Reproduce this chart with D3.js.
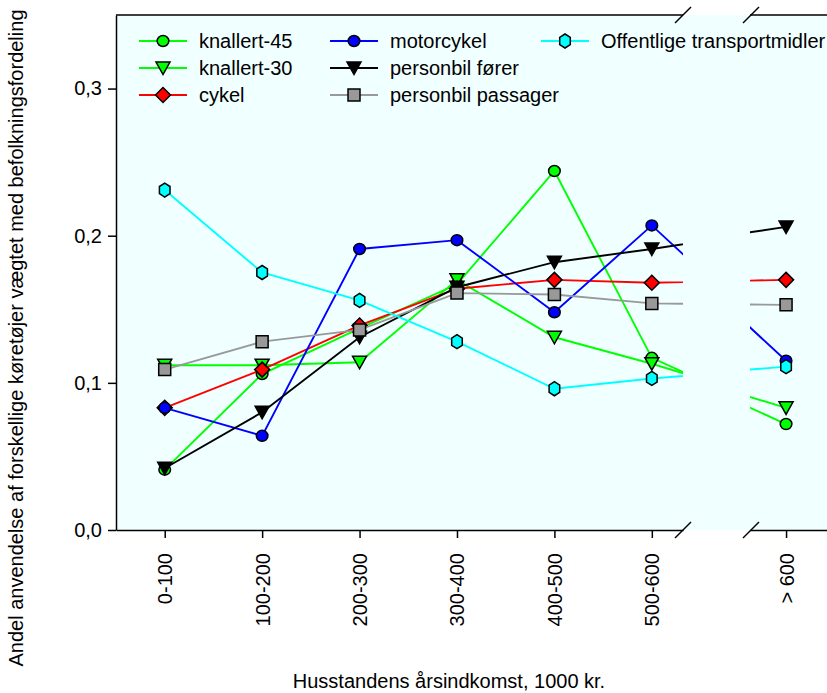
<!DOCTYPE html>
<html><head><meta charset="utf-8">
<script src="https://cdn.jsdelivr.net/npm/d3@7/dist/d3.min.js"></script>
<style>
body{margin:0;background:#fff}
svg{display:block;font-family:"Liberation Sans",Arial,sans-serif}
</style>
</head><body>
<svg id="chart" width="827" height="693"></svg>
<script>
// ---------- DATA ----------
const categories = ["0-100", "100-200", "200-300", "300-400", "400-500", "500-600", "> 600"];
const seriesNames = ["knallert-45", "knallert-30", "cykel", "motorcykel", "personbil fører", "personbil passager", "Offentlige transportmidler"];
const knallert45        = [0.041, 0.106, 0.137, 0.167, 0.244, 0.117, 0.072];
const knallert30        = [0.112, 0.112, 0.114, 0.170, 0.131, 0.113, 0.083];
const cykel             = [0.083, 0.109, 0.139, 0.164, 0.170, 0.168, 0.170];
const motorcykel        = [0.083, 0.064, 0.191, 0.197, 0.148, 0.207, 0.115];
const personbilForer    = [0.042, 0.080, 0.131, 0.165, 0.182, 0.191, 0.206];
const personbilPassager = [0.109, 0.128, 0.136, 0.161, 0.160, 0.154, 0.153];
const offentlige        = [0.231, 0.175, 0.156, 0.128, 0.096, 0.103, 0.111];
const yTicks = [0, 0.1, 0.2, 0.3];
const xTitle = "Husstandens årsindkomst, 1000 kr.";
const yTitle = "Andel anvendelse af forskellige køretøjer vægtet med befolkningsfordeling";

// ---------- STYLE ----------
const seriesStyle = [
  {line: "#00ff00", fill: "#00ff00", shape: "circle"},
  {line: "#00ff00", fill: "#00ff00", shape: "triDown"},
  {line: "#ff0000", fill: "#ff0000", shape: "diamond"},
  {line: "#0000ff", fill: "#0000ff", shape: "circle"},
  {line: "#000000", fill: "#000000", shape: "triDown"},
  {line: "#999999", fill: "#999999", shape: "square"},
  {line: "#00ffff", fill: "#00ffff", shape: "hexagon"}
];
const seriesValues = [knallert45, knallert30, cykel, motorcykel, personbilForer, personbilPassager, offentlige];
const series = seriesNames.map((n, i) => ({name: n, values: seriesValues[i], ...seriesStyle[i]}));

const shapes = {
  circle: "M-5.8,0A5.8,5.5 0 1,0 5.8,0A5.8,5.5 0 1,0 -5.8,0Z",
  triDown: "M-7,-6L7,-6L0,6.5Z",
  diamond: "M0,-7.5L7.5,0L0,7.5L-7.5,0Z",
  square: "M-6,-6H6V6H-6Z",
  hexagon: "M0,-7L5.3,-3.6L5.3,3.6L0,7L-5.3,3.6L-5.3,-3.6Z"
};

// ---------- LAYOUT ----------
const svg = d3.select("#chart");
const plotTop = 15, plotBottom = 530, plotLeft = 116;
const brk1 = 683, brk2 = 750, plotRight = 827;
const lastPos = 6.5;          // broken-axis position of the last category
const pos = i => i < categories.length - 1 ? i : lastPos;

const y = d3.scaleLinear().domain([0, 0.35]).range([plotBottom, plotTop]);
const x1 = d3.scaleLinear().domain([-0.5, 5.32]).range([plotLeft, brk1]);
const x2 = d3.scaleLinear().domain([6.13, 6.92]).range([brk2, plotRight]);

// background
svg.append("rect").attr("x", plotLeft).attr("y", plotTop).attr("width", plotRight - plotLeft).attr("height", plotBottom - plotTop).attr("fill", "#f0ffff");

const defs = svg.append("defs");
defs.append("clipPath").attr("id", "clip1").append("rect").attr("x", plotLeft).attr("y", plotTop).attr("width", brk1 - plotLeft).attr("height", plotBottom - plotTop);
defs.append("clipPath").attr("id", "clip2").append("rect").attr("x", brk2).attr("y", plotTop).attr("width", plotRight - brk2).attr("height", plotBottom - plotTop);

function drawPanel(xs, clipId, dom) {
  const g = svg.append("g").attr("clip-path", `url(#${clipId})`);
  series.forEach(s => {
    const pts = s.values.map((v, i) => [pos(i), v]);
    g.append("path")
      .attr("d", d3.line().x(d => xs(d[0])).y(d => y(d[1]))(pts))
      .attr("fill", "none").attr("stroke", s.line).attr("stroke-width", 1.9);
    g.selectAll(null).data(pts.filter(p => p[0] >= dom[0] && p[0] <= dom[1])).enter()
      .append("path")
      .attr("d", shapes[s.shape])
      .attr("transform", d => `translate(${xs(d[0])},${y(d[1])})`)
      .attr("fill", s.fill).attr("stroke", "#000").attr("stroke-width", 1.5);
  });
}
drawPanel(x1, "clip1", x1.domain());
drawPanel(x2, "clip2", x2.domain());

// ---------- AXES ----------
const fmt = d => d3.format(".1f")(d).replace(".", ",");
const yAx = svg.append("g").attr("transform", `translate(${plotLeft},0)`)
  .call(d3.axisLeft(y).tickValues(yTicks).tickFormat(fmt).tickSize(8).tickSizeOuter(0).tickPadding(6));
yAx.selectAll("text").attr("font-size", 20).attr("fill", "#000").attr("font-family", "Liberation Sans, Arial, sans-serif");

function xAxis(xs, vals) {
  const g = svg.append("g").attr("transform", `translate(0,${plotBottom})`)
    .call(d3.axisBottom(xs).tickValues(vals).tickFormat(d => categories[d === lastPos ? categories.length - 1 : d]).tickSize(8).tickSizeOuter(0));
  g.selectAll("text")
    .attr("transform", "rotate(-90)")
    .attr("text-anchor", "end")
    .attr("x", -23).attr("y", 0).attr("dy", "0.35em")
    .attr("font-size", 20).attr("fill", "#000").attr("font-family", "Liberation Sans, Arial, sans-serif");
  return g;
}
xAxis(x1, [0, 1, 2, 3, 4, 5]);
xAxis(x2, [lastPos]);
svg.selectAll(".domain, .tick line").attr("stroke", "#000").attr("stroke-width", 1.5);

// top frame
svg.append("line").attr("x1", plotLeft).attr("x2", brk1).attr("y1", plotTop).attr("y2", plotTop).attr("stroke", "#000").attr("stroke-width", 1.5);
svg.append("line").attr("x1", brk2).attr("x2", plotRight).attr("y1", plotTop).attr("y2", plotTop).attr("stroke", "#000").attr("stroke-width", 1.5);

// break marks
[plotTop, plotBottom].forEach(yy => {
  [brk1, brk2 + 1].forEach(xx => {
    svg.append("line").attr("x1", xx - 8).attr("y1", yy + 8).attr("x2", xx + 8).attr("y2", yy - 8)
      .attr("stroke", "#000").attr("stroke-width", 1.5);
  });
});

// ---------- TITLES ----------
svg.append("text").attr("x", 449).attr("y", 688).attr("text-anchor", "middle")
  .attr("font-size", 20).text(xTitle);
svg.append("text").attr("transform", "translate(23,338) rotate(-90)").attr("text-anchor", "middle")
  .attr("font-size", 20).text(yTitle);

// ---------- LEGEND ----------
const colX = [139, 330, 541];
const rowY = [41, 68, 95];
const legendOrder = [[0, 0, 0], [1, 0, 1], [2, 0, 2], [3, 1, 0], [4, 1, 1], [5, 1, 2], [6, 2, 0]];
legendOrder.forEach(([si, c, r]) => {
  const s = series[si];
  const g = svg.append("g").attr("transform", `translate(${colX[c]},${rowY[r]})`);
  g.append("line").attr("x1", 0).attr("x2", 48).attr("y1", 0).attr("y2", 0).attr("stroke", s.line).attr("stroke-width", 1.9);
  g.append("path").attr("d", shapes[s.shape]).attr("transform", "translate(24,0)")
    .attr("fill", s.fill).attr("stroke", "#000").attr("stroke-width", 1.5);
  g.append("text").attr("x", 60).attr("y", 7).attr("font-size", 20).text(s.name);
});
</script>
</body></html>
